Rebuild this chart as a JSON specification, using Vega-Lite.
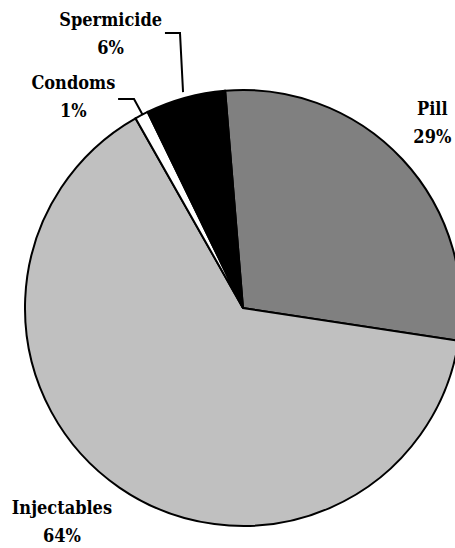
{
  "$schema": "https://vega.github.io/schema/vega-lite/v6.json",
  "width": 486,
  "height": 616,
  "autosize": {"type": "none"},
  "padding": 0,
  "background": "white",
  "config": {"view": {"stroke": null}},
  "datasets": {
    "shares": [
      {"method": "Pill", "share": 0.287, "rank": 1},
      {"method": "Injectables", "share": 0.644, "rank": 2},
      {"method": "Condoms", "share": 0.010, "rank": 3},
      {"method": "Spermicide", "share": 0.059, "rank": 4}
    ],
    "leaders": [
      {"leader": "Spermicide", "seq": 1, "x": -0.358, "y": 1.261},
      {"leader": "Spermicide", "seq": 2, "x": -0.289, "y": 1.261},
      {"leader": "Spermicide", "seq": 3, "x": -0.275, "y": 0.990},
      {"leader": "Condoms", "seq": 1, "x": -0.573, "y": 0.959},
      {"leader": "Condoms", "seq": 2, "x": -0.500, "y": 0.959},
      {"leader": "Condoms", "seq": 3, "x": -0.460, "y": 0.885}
    ]
  },
  "layer": [
    {
      "data": {"name": "shares"},
      "mark": {"type": "arc", "outerRadius": 218, "stroke": "black", "strokeWidth": 2},
      "encoding": {
        "theta": {"field": "share", "type": "quantitative", "stack": true, "scale": {"range": [-0.082, 6.2012]}},
        "color": {"field": "method", "type": "nominal", "scale": {"domain": ["Pill", "Injectables", "Condoms", "Spermicide"], "range": ["#808080", "#c0c0c0", "#ffffff", "#000000"]}, "legend": null},
        "order": {"field": "rank", "type": "quantitative"}
      }
    },
    {
      "data": {"name": "shares"},
      "mark": {
        "type": "text", "radius": 270, "font": "DejaVu Serif Condensed", "fontWeight": "bold", "fontSize": 18, "align": "center", "baseline": "middle", "color": "black",
        "dx": {"expr": "datum.method === 'Pill' ? -8 : datum.method === 'Injectables' ? -28 : datum.method === 'Condoms' ? -44 : -61"},
        "dy": {"expr": "(datum.method === 'Pill' ? 0 : datum.method === 'Injectables' ? -7 : datum.method === 'Condoms' ? 29 : -13) - 14"}
      },
      "encoding": {
        "theta": {"field": "share", "type": "quantitative", "stack": true, "scale": {"range": [-0.082, 6.2012]}},
        "order": {"field": "rank", "type": "quantitative"},
        "text": {"field": "method"}
      }
    },
    {
      "data": {"name": "shares"},
      "mark": {
        "type": "text", "radius": 270, "font": "DejaVu Serif Condensed", "fontWeight": "bold", "fontSize": 18, "align": "center", "baseline": "middle", "color": "black",
        "dx": {"expr": "datum.method === 'Pill' ? -8 : datum.method === 'Injectables' ? -28 : datum.method === 'Condoms' ? -44 : -61"},
        "dy": {"expr": "(datum.method === 'Pill' ? 0 : datum.method === 'Injectables' ? -7 : datum.method === 'Condoms' ? 29 : -13) + 14"}
      },
      "encoding": {
        "theta": {"field": "share", "type": "quantitative", "stack": true, "scale": {"range": [-0.082, 6.2012]}},
        "order": {"field": "rank", "type": "quantitative"},
        "text": {"field": "share", "type": "quantitative", "format": ".0%"}
      }
    },
    {
      "data": {"name": "leaders"},
      "mark": {"type": "line", "color": "black", "strokeWidth": 2},
      "encoding": {
        "x": {"field": "x", "type": "quantitative", "scale": {"domain": [-1.1147, 1.1147], "nice": false, "zero": false}, "axis": null},
        "y": {"field": "y", "type": "quantitative", "scale": {"domain": [-1.4128, 1.4128], "nice": false, "zero": false}, "axis": null},
        "detail": {"field": "leader"},
        "order": {"field": "seq", "type": "quantitative"}
      }
    }
  ]
}
